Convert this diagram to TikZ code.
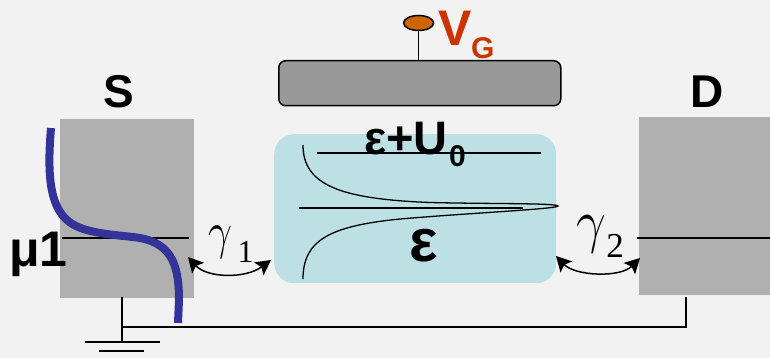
\RequirePackage{fix-cm}
\documentclass[tikz,border=0pt]{standalone}
\usepackage{fontspec}
\setmainfont{Liberation Sans}
\newfontfamily\serifnum{Liberation Serif}
\usetikzlibrary{arrows.meta,shapes.geometric}
\definecolor{bgc}{HTML}{F2F2F2}
\definecolor{contact}{HTML}{B0B0B0}
\definecolor{gatec}{HTML}{999999}
\definecolor{dotc}{HTML}{BCE0E4}
\definecolor{fermi}{HTML}{333399}
\definecolor{vgc}{HTML}{CC3300}
\definecolor{termc}{HTML}{CC6600}
\tikzset{
  contactbox/.style={fill=contact,draw=none,minimum width=0,inner sep=0,anchor=north west},
  wire/.style={draw=black,line width=1.5pt},
  thin wire/.style={draw=black,line width=1.3pt},
  coupling/.style={draw=black,line width=1.5pt,{Stealth[length=15pt,width=16pt,inset=3pt]}-{Stealth[length=15pt,width=16pt,inset=3pt]}},
  blab/.style={font=\bfseries\fontsize{46}{46}\selectfont,inner sep=0,text=black},
  mlab/.style={font=\bfseries\fontsize{47}{47}\selectfont,inner sep=0,text=black},
  slab/.style={inner sep=0,text=black},
}
\begin{document}
\begin{tikzpicture}[x=1pt,y=-1pt]
\useasboundingbox (0,0) rectangle (770,358);
\fill[bgc] (0,0) rectangle (770,358);
% contacts
\node[contactbox,minimum width=134pt,minimum height=179pt] (S) at (60,119) {};
\node[contactbox,minimum width=131pt,minimum height=178pt] (D) at (639,117) {};
% gate
\node[fill=gatec,draw=black,line width=1.5pt,rounded corners=7pt,minimum width=282pt,minimum height=45pt,inner sep=0,anchor=north west] (gate) at (278,60) {};
\node[ellipse,fill=termc,draw=black,line width=1.5pt,minimum width=30pt,minimum height=15pt,inner sep=0] (term) at (418.6,23) {};
\coordinate (gatetop) at (418.6,60);
\draw[wire] (term) -- (gatetop);
% dot
\node[fill=dotc,draw=none,rounded corners=20pt,minimum width=282pt,minimum height=149pt,inner sep=0,anchor=north west] (dot) at (274,134) {};
% levels in dot
\coordinate (u0l) at (317,153); \coordinate (u0r) at (541,153);
\coordinate (el) at (299,208); \coordinate (er) at (523,208);
\draw[wire] (u0l) -- (u0r);
\draw[wire] (el) -- (er);
% Lorentzian
\draw[thin wire] (303,145) .. controls (303,185) and (340,199) .. (430,202.5)
  .. controls (490,204) and (557,203) .. (558,206)
  .. controls (557,209) and (470,213) .. (400,219)
  .. controls (330,226) and (303,240) .. (303,279);
% contact levels
\coordinate (sl) at (62,238); \coordinate (sr) at (189,238);
\coordinate (dl) at (637,238); \coordinate (dr) at (770,238);
\draw[wire] (sl) -- (sr);
\draw[wire] (dl) -- (dr);
% fermi
\draw[fermi,line width=8pt] (51,128) .. controls (47,175) and (50,205) .. (67,220)
  .. controls (80,232) and (105,234) .. (133,237)
  .. controls (170,241) and (179,262) .. (179,300) -- (178,323);
% wires
\coordinate (gs) at (122,297); \coordinate (gj) at (122,342); \coordinate (wj) at (122,327);
\coordinate (wd) at (686,327); \coordinate (dt) at (686,297);
\coordinate (g1l) at (85,342); \coordinate (g1r) at (160,342);
\coordinate (g2l) at (99,351); \coordinate (g2r) at (144,351);
\draw[wire] (gs) -- (gj);
\draw[wire] (wj) -- (wd) -- (dt);
\draw[wire] (g1l) -- (g1r);
\draw[wire] (g2l) -- (g2r);
% couplings
\coordinate (c1l) at (188,257); \coordinate (c1r) at (271,260);
\coordinate (c2l) at (556,256); \coordinate (c2r) at (640,258);
\draw[coupling] (c1l) .. controls (207,278) and (245,279) .. (c1r);
\draw[coupling] (c2l) .. controls (575,276) and (620,278) .. (c2r);
% labels
\node[blab] (Sl) at (119,92) {S};
\node[blab] (Dl) at (707,92) {D};
\node[font=\bfseries\fontsize{50}{50}\selectfont,inner sep=0,anchor=base west] (mu) at (9,266) {μ1};
\node[inner sep=0,anchor=base west,text=vgc,font=\bfseries\fontsize{50}{50}\selectfont] (V) at (438,46) {V};
\node[inner sep=0,anchor=base west,text=vgc,font=\bfseries\fontsize{30}{30}\selectfont] (G) at (471,59) {G};
\node[mlab,anchor=base west] (eu) at (364,155) {ε+U};
\node[inner sep=0,anchor=base west,font=\bfseries\fontsize{30}{30}\selectfont] (z) at (449,167) {0};
\node[inner sep=0,font=\bfseries\fontsize{60}{60}\selectfont] (eps) at (424,246) {ε};
\node[inner sep=0,anchor=base,xscale=.82,font=\fontsize{52}{52}\selectfont] (g1) at (220,248) {$\gamma$};
\node[slab,anchor=base,font=\serifnum\fontsize{32}{32}\selectfont] (s1) at (245.5,262) {1};
\node[inner sep=0,anchor=base,xscale=.88,font=\fontsize{60}{60}\selectfont] (g2) at (591,241) {$\gamma$};
\node[slab,anchor=base,font=\serifnum\fontsize{35}{35}\selectfont] (s2) at (615,257) {2};
\end{tikzpicture}
\end{document}
